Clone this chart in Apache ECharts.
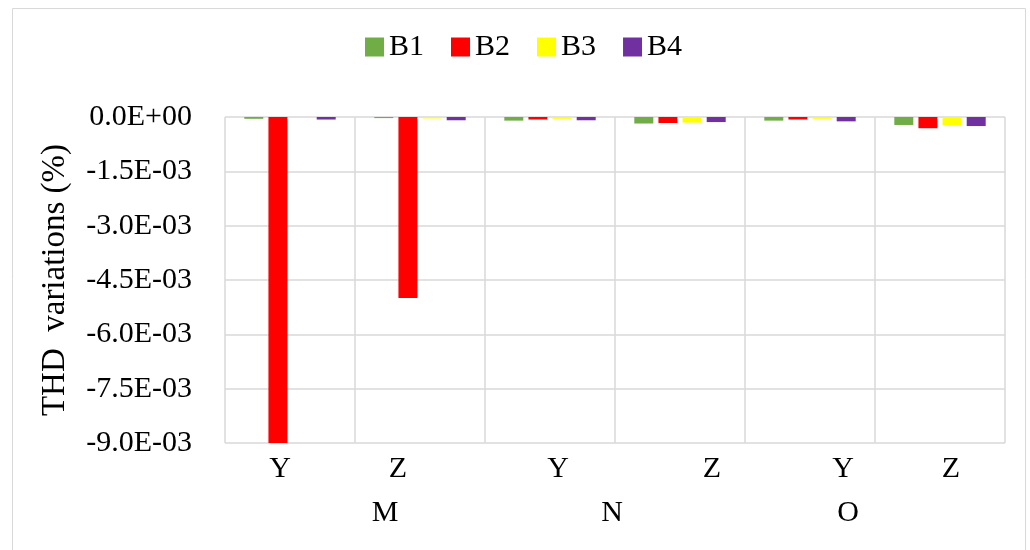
<!DOCTYPE html>
<html>
<head>
<meta charset="utf-8">
<script src="https://cdn.jsdelivr.net/npm/echarts@6/dist/echarts.min.js"></script>
<style>
  html, body { margin: 0; padding: 0; background: #fff; }
  #thdChart { width: 1030px; height: 550px; }
</style>
</head>
<body>
<div id="thdChart"></div>
<script>
// ==========================================================================
// DONNEES

var subLabels = ['Y', 'Z', 'Y', 'Z', 'Y', 'Z'];
var groupLabels = ['M', 'N', 'O'];
var seriesNames = ['B1', 'B2', 'B3', 'B4'];

var b1 = [-0.00005, -0.00003, -0.00010, -0.00018, -0.00010, -0.00022];
var b2 = [-0.0090, -0.0050, -0.00007, -0.000165, -0.00007, -0.00031];
var b3 = [-0.00001, -0.00004, -0.00005, -0.000155, -0.00005, -0.00023];
var b4 = [-0.00007, -0.00009, -0.00009, -0.00014, -0.00012, -0.00025];

var colors = ['#70AD47', '#FF0000', '#FFFF00', '#7030A0'];
var fontFamily = 'Liberation Serif';
var gridColor = '#d9d9d9';
var labelSize = 30;

// ==========================================================================
// format "0.0E+00"
function sciFormat(v) {
  if (Math.abs(v) < 1e-12) {
    return '0.0E+00';
  }
  var parts = v.toExponential(1).split('e');
  var exp = parseInt(parts[1], 10);
  var sign = exp < 0 ? '-' : '+';
  var e = Math.abs(exp);
  return parts[0] + 'E' + sign + (e < 10 ? '0' + e : e);
}

// decalage des etiquettes (comme dans Excel)
var subShift = [-10, -22, 8, 32, 33, 11];
var groupShift = [30, -3, -27];

function shiftRich(shifts) {
  var rich = {};
  shifts.forEach(function (s, i) {
    rich['s' + i] = {
      fontFamily: fontFamily,
      fontSize: labelSize,
      color: '#000',
      padding: s > 0 ? [0, 0, 0, 2 * s] : [0, -2 * s, 0, 0]
    };
  });
  return rich;
}

var chart = echarts.init(document.getElementById('thdChart'), null, {renderer: 'canvas'});

var option = {
  animation: false,
  color: colors,
  textStyle: { fontFamily: fontFamily },
  graphic: [{
    type: 'rect',
    shape: { x: 12.5, y: 8.5, width: 1013, height: 560 },
    style: { fill: 'none', stroke: gridColor, lineWidth: 1 },
    silent: true
  }],
  legend: {
    data: seriesNames,
    left: 360,
    top: 27,
    icon: 'rect',
    itemWidth: 19,
    itemHeight: 19,
    itemGap: 27,
    textStyle: { fontFamily: fontFamily, fontSize: labelSize, color: '#000' }
  },
  grid: {
    left: 225,
    right: 25,
    top: 117,
    bottom: 107
  },
  xAxis: [
    {
      type: 'category',
      data: subLabels,
      position: 'bottom',
      axisLine: { show: false, onZero: false },
      axisTick: { show: false },
      splitLine: { show: true, lineStyle: { color: gridColor, width: 1.5 } },
      axisLabel: {
        margin: 11,
        formatter: function (value, index) {
          return '{s' + index + '|' + value + '}';
        },
        rich: shiftRich(subShift)
      }
    },
    {
      type: 'category',
      data: groupLabels,
      position: 'bottom',
      offset: 46,
      axisLine: { show: false, onZero: false },
      axisTick: { show: false },
      splitLine: { show: false },
      axisLabel: {
        margin: 9,
        formatter: function (value, index) {
          return '{s' + index + '|' + value + '}';
        },
        rich: shiftRich(groupShift)
      }
    }
  ],
  yAxis: {
    type: 'value',
    min: -0.009,
    max: 0,
    interval: 0.0015,
    name: 'THD  variations (%)',
    nameLocation: 'middle',
    nameGap: 153,
    nameRotate: 90,
    nameTextStyle: { fontFamily: fontFamily, fontSize: 33, color: '#000' },
    axisLine: { show: false },
    axisTick: { show: false },
    splitLine: { lineStyle: { color: gridColor, width: 1.5 } },
    axisLabel: {
      margin: 33,
      fontFamily: fontFamily,
      fontSize: labelSize,
      color: '#000',
      formatter: sciFormat
    }
  },
  series: [
    { name: 'B1', type: 'bar', data: b1, barWidth: 19, barGap: '27%' },
    { name: 'B2', type: 'bar', data: b2, barWidth: 19, barGap: '27%' },
    { name: 'B3', type: 'bar', data: b3, barWidth: 19, barGap: '27%' },
    { name: 'B4', type: 'bar', data: b4, barWidth: 19, barGap: '27%' }
  ]
};

chart.setOption(option);
</script>
</body>
</html>
